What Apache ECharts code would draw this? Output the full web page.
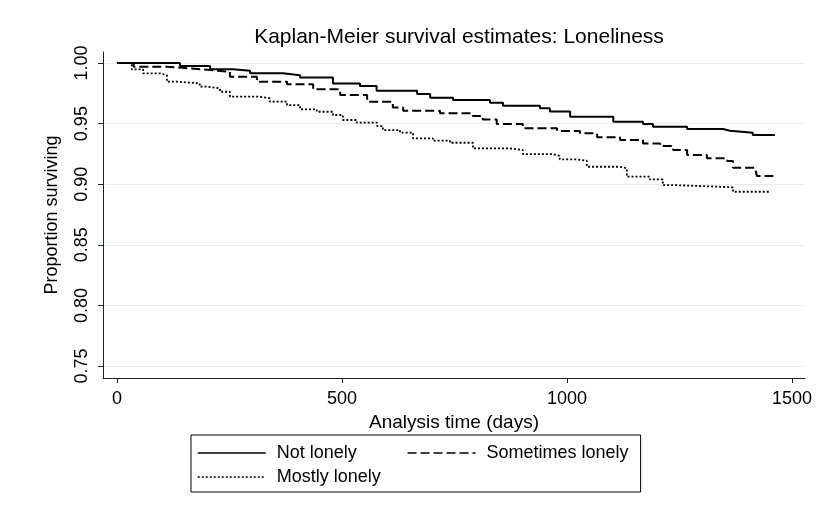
<!DOCTYPE html>
<html>
<head>
<meta charset="utf-8">
<script src="https://cdn.jsdelivr.net/npm/echarts@6/dist/echarts.min.js"></script>
<style>
  html, body { margin: 0; padding: 0; background: #fff; }
  #main { width: 817px; height: 511px; }
</style>
</head>
<body>
<div id="main"></div>
<script>
// KM step points: [day, survival]
var notLonely = [
  [0, 1.0], [140, 0.9975], [207, 0.9948], [258, 0.9936], [296, 0.9915], [369, 0.990],
  [407, 0.988], [480, 0.9832], [540, 0.981], [577, 0.9771], [667, 0.9744], [696, 0.9714],
  [747, 0.9695], [829, 0.9673], [858, 0.9648], [940, 0.9626], [962, 0.960], [1007, 0.9557],
  [1103, 0.9516], [1169, 0.9497], [1191, 0.9474], [1267, 0.9455], [1347, 0.9441],
  [1362, 0.9425], [1413, 0.9406], [1462, 0.9406]
];
var sometimesLonely = [
  [0, 1.0], [37, 0.997], [111, 0.9956], [162, 0.9942], [207, 0.9928], [251, 0.9887],
  [311, 0.9846], [378, 0.9824], [436, 0.9783], [496, 0.9736], [556, 0.9681], [613, 0.9634],
  [636, 0.9607], [718, 0.9585], [791, 0.9563], [813, 0.9535], [844, 0.9497], [902, 0.9461],
  [978, 0.9439], [1029, 0.942], [1067, 0.9387], [1118, 0.9365], [1169, 0.9337],
  [1207, 0.9315], [1236, 0.9282], [1267, 0.9241], [1311, 0.9214], [1356, 0.9191],
  [1369, 0.9136], [1418, 0.9123], [1422, 0.9068], [1462, 0.9068]
];
var mostlyLonely = [
  [0, 1.0], [33, 0.9948], [58, 0.9915], [96, 0.990], [111, 0.9846], [133, 0.9832],
  [184, 0.9805], [200, 0.979], [229, 0.9763], [251, 0.9722], [318, 0.9709], [340, 0.9681],
  [378, 0.9653], [407, 0.9618], [444, 0.9598], [480, 0.9571], [502, 0.953], [533, 0.9508],
  [578, 0.948], [591, 0.9447], [629, 0.9425], [658, 0.9379], [702, 0.9359], [740, 0.9342],
  [791, 0.9296], [873, 0.9282], [902, 0.9249], [969, 0.9233], [984, 0.9205], [1022, 0.9194],
  [1044, 0.9144], [1118, 0.9131], [1133, 0.9062], [1184, 0.904], [1213, 0.8993],
  [1236, 0.898], [1333, 0.8974], [1369, 0.8938], [1451, 0.8938]
];
var xTicks = [0, 500, 1000, 1500];
var yTicks = [0.75, 0.80, 0.85, 0.90, 0.95, 1.00];

var font = '"Liberation Sans", Arial, Helvetica, sans-serif';
var chart = echarts.init(document.getElementById('main'));

chart.setOption({
  backgroundColor: '#fff',
  animation: false,
  title: {
    text: 'Kaplan-Meier survival estimates: Loneliness',
    left: 454,
    top: 22,
    textAlign: 'center',
    textStyle: { fontFamily: font, fontSize: 21, fontWeight: 'normal', color: '#000' }
  },
  grid: { left: 103, right: 12, top: 52, bottom: 133 },
  xAxis: {
    type: 'value',
    min: -31,
    max: 1529,
    name: 'Analysis time (days)',
    nameLocation: 'middle',
    nameGap: 29,
    nameTextStyle: { fontFamily: font, fontSize: 19, color: '#000' },
    axisLine: { show: true, onZero: false, lineStyle: { color: '#222', width: 1 } },
    axisTick: { show: true, length: 5, customValues: xTicks, lineStyle: { color: '#222' } },
    axisLabel: {
      customValues: xTicks, margin: 12, fontFamily: font, fontSize: 18, color: '#000',
      formatter: function (v) { return String(v); }
    },
    splitLine: { show: false }
  },
  yAxis: {
    type: 'value',
    min: 0.7401,
    max: 1.0091,
    name: 'Proportion surviving',
    nameLocation: 'middle',
    nameGap: 42,
    nameTextStyle: { fontFamily: font, fontSize: 18, color: '#000' },
    axisLine: { show: true, onZero: false, lineStyle: { color: '#222', width: 1 } },
    axisTick: { show: true, length: 5, customValues: yTicks, lineStyle: { color: '#222' } },
    axisLabel: {
      customValues: yTicks, rotate: 90, margin: 12,
      fontFamily: font, fontSize: 18, color: '#000',
      formatter: function (v) { return v.toFixed(2); }
    },
    splitLine: { show: true, lineStyle: { color: '#e6eff1', width: 1 } }
  },
  legend: {
    left: 191,
    top: 435,
    orient: 'horizontal',
    padding: [8, 12, 5, 6],
    itemGap: 4,
    itemWidth: 68,
    itemHeight: 20,
    borderColor: '#000',
    borderWidth: 1,
    selectedMode: false,
    itemStyle: { opacity: 0 },
    textStyle: { fontFamily: font, fontSize: 18, color: '#000', lineHeight: 20, padding: [0, 0, 0, 6] },
    lineStyle: { width: 1.5 },
    data: [
      { name: 'Not lonely', textStyle: { padding: [0, 46, 0, 6] } },
      'Sometimes lonely',
      '\n',
      'Mostly lonely'
    ]
  },
  series: [
    {
      name: 'Not lonely', type: 'line', step: 'end', symbol: 'none',
      data: notLonely,
      lineStyle: { color: '#000', width: 2, type: 'solid' },
      itemStyle: { color: '#000' }
    },
    {
      name: 'Sometimes lonely', type: 'line', step: 'end', symbol: 'none',
      data: sometimesLonely,
      lineStyle: { color: '#000', width: 2, type: [9, 4] },
      itemStyle: { color: '#000' }
    },
    {
      name: 'Mostly lonely', type: 'line', step: 'end', symbol: 'none',
      data: mostlyLonely,
      lineStyle: { color: '#000', width: 1.8, type: [2, 2] },
      itemStyle: { color: '#000' }
    }
  ]
});
</script>
</body>
</html>
